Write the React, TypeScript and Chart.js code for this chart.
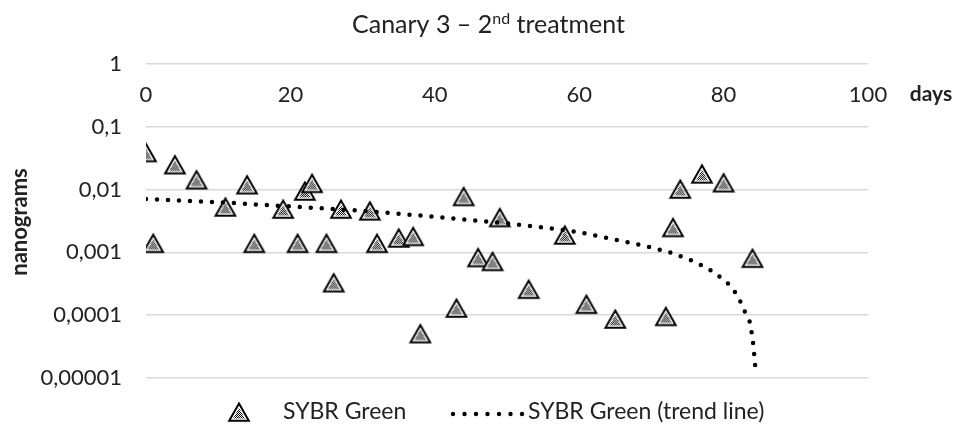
import React, { useEffect, useRef } from 'react';
import { Chart, registerables } from 'chart.js';

Chart.register(...registerables);

const titleMain = 'Canary 3 \u2013 2';
const titleSup = 'nd';
const titleRest = ' treatment';
const yAxisTitle = 'nanograms';
const xAxisTitle = 'days';
const seriesName = 'SYBR Green';
const trendName = 'SYBR Green (trend line)';

const sampleDays = [0, 1, 4, 7, 11, 14, 15, 19, 21, 22, 23, 25, 26, 27, 31, 32, 35, 37, 38, 43, 44, 46, 48, 49, 53, 58, 61, 65, 72, 73, 74, 77, 80, 84];
const sampleNanograms = [0.039, 0.0014, 0.025, 0.0144, 0.0053, 0.012, 0.0014, 0.0049, 0.0014, 0.0095, 0.0126, 0.0014, 0.00033, 0.0049, 0.0046, 0.0014, 0.0017, 0.0018, 0.000051, 0.00013, 0.0078, 0.00083, 0.00072, 0.0036, 0.00026, 0.0019, 0.00015, 0.000087, 0.000096, 0.0025, 0.0102, 0.0178, 0.0129, 0.00081];

const trendDays = [0, 10, 20, 30, 40, 50, 55, 60, 65, 70, 73, 76, 78, 80, 81, 82, 83, 83.6, 84, 84.3, 84.45];
const trendNanograms = [0.0071, 0.0063, 0.0054, 0.0046, 0.0037, 0.0029, 0.0025, 0.0021, 0.0016, 0.0012, 0.00097, 0.00071, 0.00054, 0.00037, 0.00029, 0.0002, 0.00011, 0.00008, 0.000045, 0.00002, 0.000012];

const yTickValues = [1, 0.1, 0.01, 0.001, 0.0001, 0.00001];
const yTickLabels = ['1', '0,1', '0,01', '0,001', '0,0001', '0,00001'];
const xTickValues = [0, 20, 40, 60, 80, 100];
const xTickLabels = ['0', '20', '40', '60', '80', '100'];

const FONT = 'Lato, Carlito, "Liberation Sans", sans-serif';
const TEXT = '#222222';

function makeTriangle(): HTMLCanvasElement {
  const c = document.createElement('canvas');
  c.width = 24;
  c.height = 22;
  const ctx = c.getContext('2d')!;
  const p = document.createElement('canvas');
  p.width = 2;
  p.height = 2;
  const pc = p.getContext('2d')!;
  pc.fillStyle = '#ffffff';
  pc.fillRect(0, 0, 2, 2);
  pc.fillStyle = '#000000';
  pc.fillRect(0, 0, 1, 1);
  pc.fillRect(1, 1, 1, 1);
  const pat = ctx.createPattern(p, 'repeat')!;
  const path = () => {
    ctx.beginPath();
    ctx.moveTo(12, 2.5);
    ctx.lineTo(21.8, 19.8);
    ctx.lineTo(2.2, 19.8);
    ctx.closePath();
  };
  path();
  ctx.fillStyle = pat;
  ctx.fill();
  ctx.save();
  path();
  ctx.clip();
  ctx.lineWidth = 4.5;
  ctx.strokeStyle = '#ffffff';
  ctx.stroke();
  ctx.restore();
  path();
  ctx.lineWidth = 2;
  ctx.strokeStyle = '#000000';
  ctx.lineJoin = 'miter';
  ctx.stroke();
  return c;
}

export default function App() {
  const ref = useRef<HTMLCanvasElement>(null);

  useEffect(() => {
    document.body.style.margin = '0';
    const tri = makeTriangle();

    const annotate = {
      id: 'annotate',
      afterDraw(chart: any) {
        const ctx = chart.ctx as CanvasRenderingContext2D;
        ctx.save();
        ctx.fillStyle = TEXT;
        // title
        const mainFont = `25px ${FONT}`;
        const supFont = `16px ${FONT}`;
        ctx.font = mainFont;
        const w1 = ctx.measureText(titleMain).width;
        const w3 = ctx.measureText(titleRest).width;
        ctx.font = supFont;
        const w2 = ctx.measureText(titleSup).width;
        const total = w1 + w2 + w3;
        let x = 488.5 - total / 2;
        ctx.textBaseline = 'alphabetic';
        ctx.textAlign = 'left';
        ctx.font = mainFont;
        ctx.fillText(titleMain, x, 33);
        x += w1;
        ctx.font = supFont;
        ctx.fillText(titleSup, x, 24);
        x += w2;
        ctx.font = mainFont;
        ctx.fillText(titleRest, x, 33);

        // y axis title
        ctx.save();
        ctx.translate(20, 222);
        ctx.rotate(-Math.PI / 2);
        ctx.font = `bold 22px ${FONT}`;
        ctx.textAlign = 'center';
        ctx.textBaseline = 'middle';
        ctx.fillText(yAxisTitle, 0, 0);
        ctx.restore();

        // x axis title
        ctx.font = `bold 21px ${FONT}`;
        ctx.textAlign = 'center';
        ctx.textBaseline = 'middle';
        ctx.fillText(xAxisTitle, 931, 94);

        // legend
        const ly = 412;
        ctx.drawImage(tri, 239 - tri.width / 2, ly - tri.height / 2);
        ctx.font = `23px ${FONT}`;
        ctx.textAlign = 'left';
        ctx.textBaseline = 'middle';
        ctx.fillText(seriesName, 283, ly);
        ctx.fillStyle = '#000000';
        for (let i = 0; i < 7; i++) {
          ctx.beginPath();
          ctx.arc(453 + i * 11.5, ly + 2, 2.2, 0, Math.PI * 2);
          ctx.fill();
        }
        ctx.fillStyle = TEXT;
        ctx.fillText(trendName, 528, ly);
        ctx.restore();
      },
    };

    const chart = new Chart(ref.current!, {
      type: 'scatter',
      data: {
        datasets: [
          {
            label: trendName,
            data: trendDays.map((d, i) => ({ x: d, y: trendNanograms[i] })),
            showLine: true,
            borderColor: '#000000',
            backgroundColor: '#000000',
            borderWidth: 4.5,
            borderDash: [0, 11],
            borderCapStyle: 'round',
            pointRadius: 0,
            pointHoverRadius: 0,
            tension: 0,
            fill: false,
            order: 1,
          } as any,
          {
            label: seriesName,
            data: sampleDays.map((d, i) => ({ x: d, y: sampleNanograms[i] })),
            pointStyle: tri as any,
            pointRadius: 11,
            order: 2,
          } as any,
        ],
      },
      options: {
        responsive: false,
        animation: false,
        layout: { padding: { left: 0, right: 95, top: 64, bottom: 48 } },
        plugins: {
          legend: { display: false },
          title: { display: false },
          tooltip: { enabled: false },
        },
        scales: {
          x: {
            type: 'linear',
            position: { y: 1 } as any,
            min: 0,
            max: 100,
            afterBuildTicks: (s: any) => {
              s.ticks = xTickValues.map((v) => ({ value: v }));
            },
            ticks: {
              callback: (_v: any, i: number) => xTickLabels[i],
              font: { family: FONT, size: 22 },
              color: TEXT,
              padding: 18,
              maxRotation: 0,
            },
            grid: { display: false, drawTicks: false },
            border: { display: false },
          },
          y: {
            type: 'logarithmic',
            min: 0.00001,
            max: 1,
            afterBuildTicks: (s: any) => {
              s.ticks = yTickValues.map((v) => ({ value: v, major: false }));
            },
            afterFit: (s: any) => {
              s.width = 146;
            },
            ticks: {
              callback: (v: any) => yTickLabels[yTickValues.findIndex((t) => Math.abs(Math.log10(t) - Math.log10(v)) < 1e-6)],
              font: { family: FONT, size: 22 },
              color: TEXT,
              padding: 24,
            },
            grid: { color: '#d9d9d9', lineWidth: 1.5, drawTicks: false },
            border: { display: false },
          },
        },
      } as any,
      plugins: [annotate],
    });
    return () => chart.destroy();
  }, []);

  return (
    <div style={{ width: 963, height: 426 }}>
      <canvas ref={ref} width={963} height={426} style={{ display: 'block' }} />
    </div>
  );
}
